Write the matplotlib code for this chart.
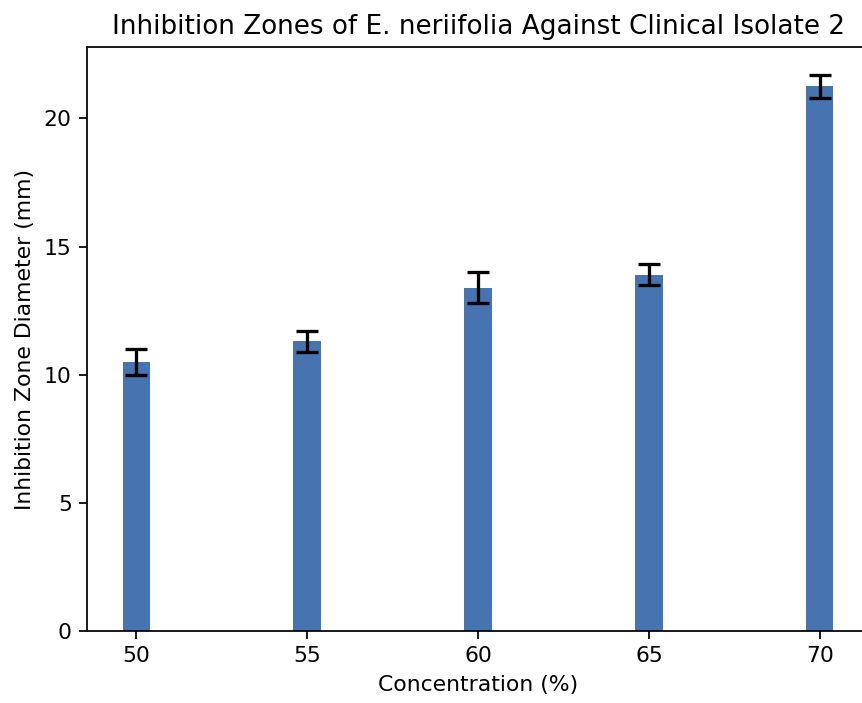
import matplotlib
matplotlib.use('Agg')
import matplotlib.pyplot as plt

# data
concentration = [50, 55, 60, 65, 70]
zone_mean = [10.5, 11.3, 13.4, 13.9, 21.25]
zone_sd = [0.5, 0.4, 0.6, 0.4, 0.45]

dpi = 157.5
fig = plt.figure(figsize=(862 / dpi, 703 / dpi), dpi=dpi)
# the reference is cropped just inside the right spine
ax = fig.add_axes([87 / 862, 72 / 703, 782 / 862, 584 / 703])

ax.bar(concentration, zone_mean, yerr=zone_sd, width=0.8, color='#4674b0',
       capsize=5, error_kw=dict(ecolor='black', elinewidth=1.5, capthick=1.5))

ax.set_xticks(concentration)
ax.set_xlabel('Concentration (%)')
ax.set_ylabel('Inhibition Zone Diameter (mm)')
ax.set_title('Inhibition Zones of E. neriifolia Against Clinical Isolate 2')

fig.savefig('out.png', dpi=dpi)
